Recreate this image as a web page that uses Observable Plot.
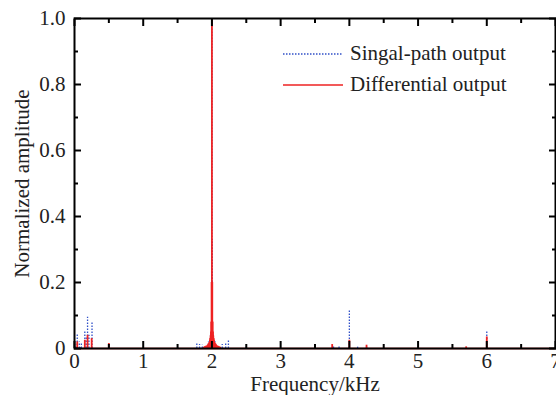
<!DOCTYPE html>
<html><head><meta charset="utf-8">
<script src="https://cdn.jsdelivr.net/npm/d3@7"></script>
<script src="https://cdn.jsdelivr.net/npm/@observablehq/plot@0.6"></script>
<style>
body{margin:0;background:#fff;}
#wrap{position:relative;width:556px;height:395px;overflow:hidden;font-family:"Liberation Serif","Times New Roman",serif;}
#wrap svg, #wrap svg text{font-family:"Liberation Serif","Times New Roman",serif !important;}
#legend{position:absolute;left:283px;top:38px;font-size:21px;color:#222;}
.row{display:flex;align-items:center;height:31px;white-space:nowrap;}
.row svg{width:60px;height:10px;margin-right:7px;display:block;}
</style></head><body><div id="wrap"><div id="legend"></div></div>
<script>
const seriesNames = ["Singal-path output", "Differential output"];
const seriesColors = ["#3050c8", "#ee2222"];

// Singal-path output spectrum lines (frequency kHz, normalized amplitude)
const blueFreq = [0.02, 0.04, 0.07, 0.10, 0.15, 0.17, 0.19, 0.21, 0.255, 0.5, 1.5, 1.78, 1.82, 1.86, 1.95, 1.98, 1.996, 2.0, 2.004, 2.02, 2.05, 2.15, 2.2, 2.24, 2.5, 3.5, 3.77, 3.85, 4.0, 4.12, 4.25, 6.0];
const blueAmp  = [0.010, 0.045, 0.020, 0.015, 0.050, 0.035, 0.095, 0.040, 0.080, 0.012, 0.003, 0.015, 0.012, 0.010, 0.020, 0.040, 0.33, 1.0, 0.33, 0.040, 0.020, 0.012, 0.015, 0.025, 0.004, 0.003, 0.008, 0.005, 0.115, 0.004, 0.006, 0.050];

// Differential output spectrum lines
const redFreq = [0.04, 0.15, 0.19, 0.25, 0.5, 1.88, 1.90, 1.92, 1.94, 1.95, 1.96, 1.97, 1.975, 1.98, 1.985, 1.99, 1.995, 2.0, 2.005, 2.01, 2.015, 2.02, 2.025, 2.03, 2.04, 2.05, 2.06, 2.08, 2.10, 2.12, 3.75, 4.0, 4.25, 5.7, 6.0];
const redAmp  = [0.020, 0.025, 0.040, 0.030, 0.015, 0.004, 0.006, 0.008, 0.011, 0.014, 0.018, 0.025, 0.030, 0.038, 0.050, 0.080, 0.200, 1.0, 0.200, 0.080, 0.050, 0.038, 0.030, 0.025, 0.018, 0.014, 0.011, 0.008, 0.006, 0.004, 0.012, 0.025, 0.010, 0.005, 0.035];

const xMajor = [0, 1, 2, 3, 4, 5, 6, 7];
const xMinor = [0.5, 1.5, 2.5, 3.5, 4.5, 5.5, 6.5];
const yMajor = [0, 0.2, 0.4, 0.6, 0.8, 1.0];
const yMinor = [0.1, 0.3, 0.5, 0.7, 0.9];
const xTickLabels = ["0", "1", "2", "3", "4", "5", "6", "7"];
const yTickLabels = ["0", "0.2", "0.4", "0.6", "0.8", "1.0"];
const xTitle = "Frequency/kHz";
const yTitle = "Normalized amplitude";

const blue = blueFreq.map((f, i) => ({f, a: blueAmp[i]}));
const red = redFreq.map((f, i) => ({f, a: redAmp[i]}));
const FONT = "Liberation Serif, Times New Roman, serif";
const TXT = "#222";

const tickAxes = [];
for (const [vals, len] of [[xMajor, -7], [xMinor, -4]]) {
  for (const anchor of ["bottom", "top"]) {
    tickAxes.push(Plot.axisX(vals, {anchor, tickSize: len, tickFormat: () => "", label: null, strokeWidth: 2, stroke: "black"}));
  }
}
for (const [vals, len] of [[yMajor, -7], [yMinor, -4]]) {
  for (const anchor of ["left", "right"]) {
    tickAxes.push(Plot.axisY(vals, {anchor, tickSize: len, tickFormat: () => "", label: null, strokeWidth: 2, stroke: "black"}));
  }
}

const plot = Plot.plot({
  width: 556, height: 395,
  marginLeft: 74, marginRight: 1, marginTop: 18, marginBottom: 47,
  x: {domain: [0, 7]},
  y: {domain: [0, 1]},
  style: {fontFamily: FONT, fontSize: "21px", color: TXT, background: "white", overflow: "visible"},
  marks: [
    Plot.ruleY([0], {stroke: seriesColors[1], strokeWidth: 1.5}),
    Plot.ruleX(blue, {x: "f", y1: 0, y2: "a", stroke: seriesColors[0], strokeWidth: 1.3, strokeDasharray: "1.5,1.5"}),
    Plot.ruleX(red, {x: "f", y1: 0, y2: "a", stroke: seriesColors[1], strokeWidth: 1.8}),
    ...tickAxes,
    Plot.axisX(xMajor, {anchor: "bottom", tickSize: 0, tickPadding: 5, tickFormat: d => xTickLabels[xMajor.indexOf(d)], label: null, fontSize: 21, fill: TXT, fontFamily: FONT}),
    Plot.axisY(yMajor, {anchor: "left", tickSize: 0, tickPadding: 9, tickFormat: d => yTickLabels[yMajor.indexOf(d)], label: null, fontSize: 21, fill: TXT, fontFamily: FONT}),
    Plot.frame({stroke: "black", strokeWidth: 2}),
    Plot.text([xTitle], {text: d => d, frameAnchor: "bottom", textAnchor: "middle", lineAnchor: "middle", dy: 36, fontSize: 21, fill: TXT, fontFamily: FONT}),
    Plot.text([yTitle], {text: d => d, frameAnchor: "left", textAnchor: "middle", lineAnchor: "middle", rotate: -90, dx: -52, fontSize: 21, fill: TXT, fontFamily: FONT})
  ]
});
document.getElementById("wrap").prepend(plot);

const legend = document.getElementById("legend");
seriesNames.forEach((name, i) => {
  const row = document.createElement("div");
  row.className = "row";
  const dash = i === 0 ? 'stroke-dasharray="1.5,1.5"' : "";
  row.innerHTML = `<svg viewBox="0 0 60 10"><line x1="0" x2="60" y1="5" y2="5" stroke="${seriesColors[i]}" stroke-width="1.3" ${dash}/></svg><span>${name}</span>`;
  legend.appendChild(row);
});
</script></body></html>
